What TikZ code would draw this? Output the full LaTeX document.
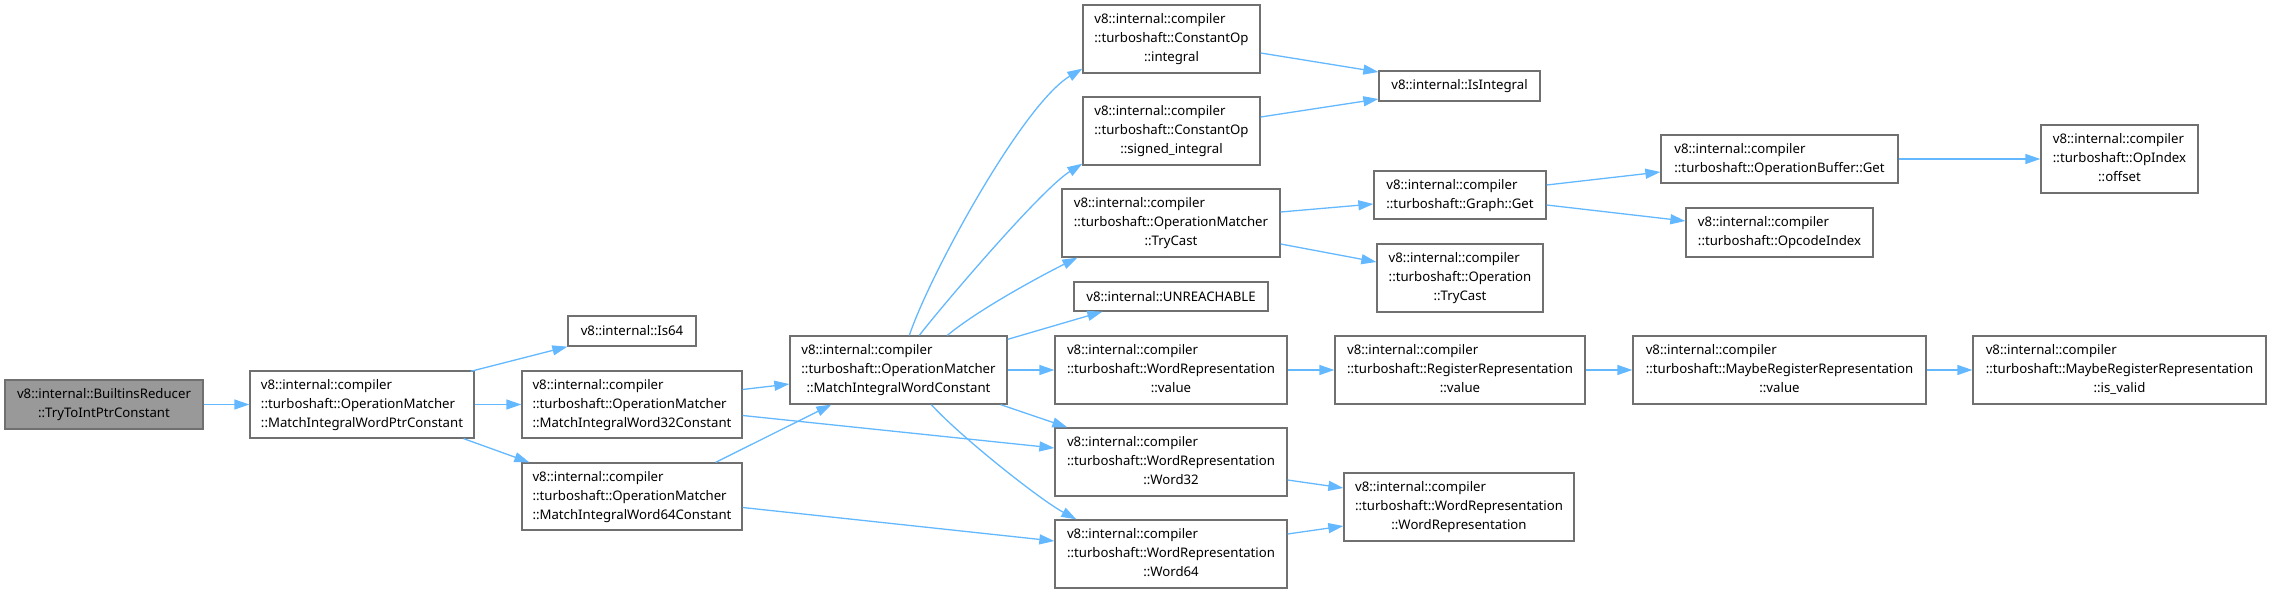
\documentclass[tikz,border=0pt]{standalone}
\usepackage{fontspec}
\setmainfont{Noto Sans}
\usetikzlibrary{arrows.meta,calc}
\definecolor{edgeblue}{HTML}{63B8FF}
\definecolor{boxgray}{HTML}{707070}
\definecolor{rootfill}{HTML}{999999}
\newcommand{\Tl}[3]{\begin{tabular}{@{}l@{}}#1\\#2\\\multicolumn{1}{@{}c@{}}{#3}\end{tabular}}
\newcommand{\Dl}[2]{\begin{tabular}{@{}l@{}}#1\\\multicolumn{1}{@{}c@{}}{#2}\end{tabular}}
\tikzset{
  box/.style={draw=boxgray, line width=1.3pt, fill=white, inner sep=0pt,
    font=\fontsize{13.2}{19}\selectfont, text=black},
  root/.style={box, fill=rootfill},
  sz/.style 2 args={minimum width=#1pt, minimum height=#2pt},
  edge/.style={draw=edgeblue, line width=1.3pt, -{Triangle[length=15pt,width=10pt]}}
}
\begin{document}
\begin{tikzpicture}[x=1pt,y=-1pt]
\useasboundingbox (0,0) rectangle (2271,593);
% nodes
\node[root, sz={198}{49}] (br) at (104,404.5) {\Dl{v8::internal::BuiltinsReducer}{::TryToIntPtrConstant}};
\node[box, sz={224}{67}] (wptr) at (362,404.5) {\Tl{v8::internal::compiler}{::turboshaft::OperationMatcher}{::MatchIntegralWordPtrConstant}};
\node[box, sz={128}{30}] (is64) at (632,331) {v8::internal::Is64};
\node[box, sz={220}{67}] (w32c) at (632,404.5) {\Tl{v8::internal::compiler}{::turboshaft::OperationMatcher}{::MatchIntegralWord32Constant}};
\node[box, sz={220}{67}] (w64c) at (632,496.5) {\Tl{v8::internal::compiler}{::turboshaft::OperationMatcher}{::MatchIntegralWord64Constant}};
\node[box, sz={217}{68}] (wc) at (898.5,370) {\Tl{v8::internal::compiler}{::turboshaft::OperationMatcher}{::MatchIntegralWordConstant}};
\node[box, sz={177}{68}] (integral) at (1171.5,39) {\Tl{v8::internal::compiler}{::turboshaft::ConstantOp}{::integral}};
\node[box, sz={177}{68}] (sint) at (1171.5,131) {\Tl{v8::internal::compiler}{::turboshaft::ConstantOp}{::signed\_integral}};
\node[box, sz={161}{30}] (isint) at (1459.5,86) {v8::internal::IsIntegral};
\node[box, sz={218}{68}] (trycast) at (1171,223) {\Tl{v8::internal::compiler}{::turboshaft::OperationMatcher}{::TryCast}};
\node[box, sz={194}{29}] (unreach) at (1171,296.5) {v8::internal::UNREACHABLE};
\node[box, sz={172}{48}] (gget) at (1460,195) {\Dl{v8::internal::compiler}{::turboshaft::Graph::Get}};
\node[box, sz={166}{68}] (optry) at (1460,278) {\Tl{v8::internal::compiler}{::turboshaft::Operation}{::TryCast}};
\node[box, sz={232}{68}] (wrv) at (1171,370) {\Tl{v8::internal::compiler}{::turboshaft::WordRepresentation}{::value}};
\node[box, sz={250}{68}] (rrv) at (1460,370) {\Tl{v8::internal::compiler}{::turboshaft::RegisterRepresentation}{::value}};
\node[box, sz={232}{68}] (w32) at (1171,462) {\Tl{v8::internal::compiler}{::turboshaft::WordRepresentation}{::Word32}};
\node[box, sz={232}{68}] (w64) at (1171,554) {\Tl{v8::internal::compiler}{::turboshaft::WordRepresentation}{::Word64}};
\node[box, sz={230}{68}] (wrwr) at (1459,507) {\Tl{v8::internal::compiler}{::turboshaft::WordRepresentation}{::WordRepresentation}};
\node[box, sz={237}{48}] (obget) at (1779.5,159) {\Dl{v8::internal::compiler}{::turboshaft::OperationBuffer::Get}};
\node[box, sz={157}{68}] (offset) at (2119.5,159) {\Tl{v8::internal::compiler}{::turboshaft::OpIndex}{::offset}};
\node[box, sz={187}{49}] (opcode) at (1779.5,232.5) {\Dl{v8::internal::compiler}{::turboshaft::OpcodeIndex}};
\node[box, sz={293}{68}] (mrv) at (1779.5,370) {\Tl{v8::internal::compiler}{::turboshaft::MaybeRegisterRepresentation}{::value}};
\node[box, sz={293}{68}] (valid) at (2119.5,370) {\Tl{v8::internal::compiler}{::turboshaft::MaybeRegisterRepresentation}{::is\_valid}};
% edges
\draw[edge] (br.east) -- (wptr.west);
\draw[edge] ($(wptr.north east)+(-4,1)$) -- (is64.south west);
\draw[edge] (wptr.east) -- (w32c.west);
\draw[edge] ($(wptr.south east)+(-11,0)$) -- ($(w64c.north west)+(8,0)$);
\draw[edge] ($(w32c.east)+(0,-15)$) -- ($(wc.west)+(0,14)$);
\draw[edge] ($(w64c.north east)+(-27,0)$) -- ($(wc.south west)+(42,0)$);
\draw[edge] ($(w32c.east)+(0,11)$) -- ($(w32.west)+(0,-14)$);
\draw[edge] ($(w64c.east)+(0,11)$) -- ($(w64.west)+(0,-13)$);
\draw[edge] ($(wc.north west)+(120,0)$) .. controls +(20,-60) and +(-60,36) .. ($(integral.south west)+(0,-5)$);
\draw[edge] ($(wc.north west)+(130,0)$) .. controls +(15,-20) and +(-43,27) .. ($(sint.south west)+(0,-2)$);
\draw[edge] ($(wc.north west)+(158,0)$) .. controls +(30,-25) and +(-40,20) .. ($(trycast.south west)+(16,0)$);
\draw[edge] ($(wc.north east)+(0,4)$) -- ($(unreach.south west)+(29,0)$);
\draw[edge] (wc.east) -- (wrv.west);
\draw[edge] ($(wc.south east)+(-7,0)$) -- ($(w32.north west)+(13,0)$);
\draw[edge] ($(wc.south west)+(142,0)$) .. controls +(28,31) and +(-37,-20) .. ($(w64.north west)+(22,0)$);
\draw[edge] ($(integral.east)+(0,14)$) -- ($(isint.west)+(0,-14)$);
\draw[edge] ($(sint.east)+(0,-14)$) -- ($(isint.west)+(0,13)$);
\draw[edge] ($(trycast.east)+(0,-11)$) -- ($(gget.west)+(0,9)$);
\draw[edge] ($(trycast.east)+(0,21)$) -- ($(optry.west)+(0,-16)$);
\draw[edge] ($(gget.east)+(0,-10)$) -- ($(obget.west)+(0,13)$);
\draw[edge] ($(gget.east)+(0,10)$) -- ($(opcode.west)+(0,-11.5)$);
\draw[edge] (obget.east) -- (offset.west);
\draw[edge] (wrv.east) -- (rrv.west);
\draw[edge] (rrv.east) -- (mrv.west);
\draw[edge] (mrv.east) -- (valid.west);
\draw[edge] ($(w32.east)+(0,18)$) -- ($(wrwr.west)+(0,-19)$);
\draw[edge] ($(w64.east)+(0,-20)$) -- ($(wrwr.west)+(0,19)$);
\end{tikzpicture}
\end{document}
